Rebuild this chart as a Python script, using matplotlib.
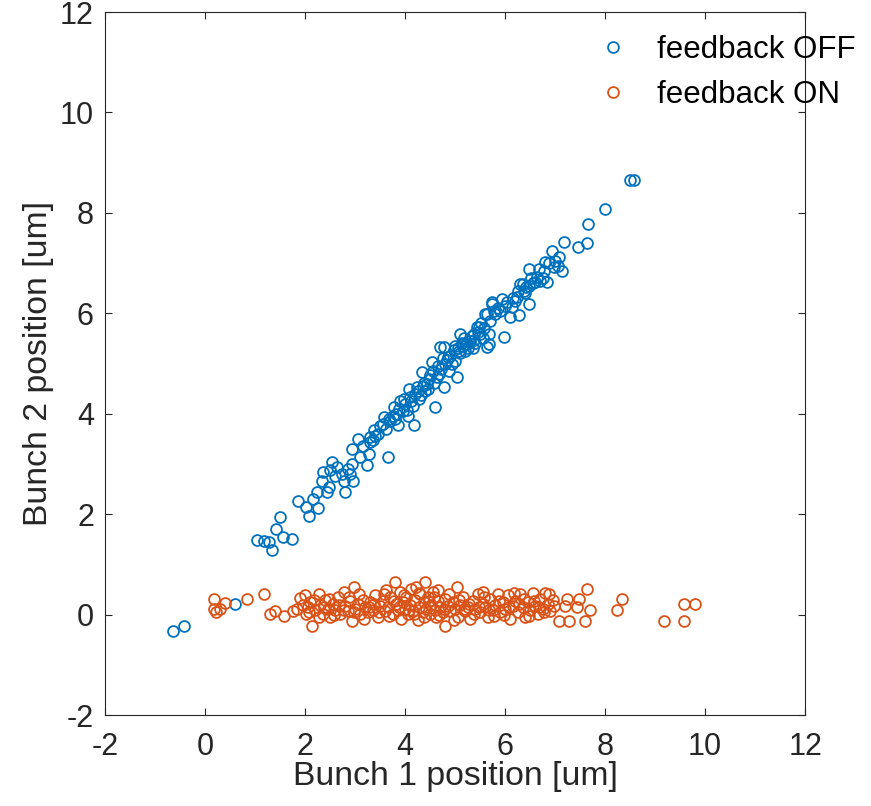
import matplotlib
matplotlib.use("Agg")
import matplotlib.pyplot as plt

# feedback OFF (bunch 1 x, bunch 2 y)
off_x = [-0.65, -0.43, 0.60,
         1.03, 1.17, 1.27, 1.33, 1.42, 1.50, 1.55, 1.73,
         1.85, 2.02, 2.07, 2.15, 2.25, 2.23, 2.33, 2.35, 2.43, 2.47, 2.53, 2.50, 2.63,
         2.73, 2.77, 2.80, 2.90, 2.93, 2.95, 2.93, 3.05, 3.10, 3.23, 3.27, 3.29, 3.65,
         3.37, 3.30, 3.45, 3.50, 3.57, 3.62, 3.70, 3.77, 3.75, 3.82, 3.90, 3.85, 3.95,
         4.00, 4.05, 4.07, 4.10, 4.17, 4.15, 4.20, 4.23, 4.28, 4.33, 4.35, 4.40, 4.43,
         4.48, 4.53, 4.55, 4.60, 4.63, 4.65, 4.70, 4.72, 4.77, 4.77, 4.80, 4.83, 4.88,
         4.90, 4.97, 5.00, 5.03, 5.05, 5.09, 5.10, 5.15, 5.20, 5.23, 5.30, 5.35, 5.37,
         5.37, 5.43, 5.47, 5.50, 5.55, 5.60, 5.63, 5.63, 5.67, 5.67, 5.73, 5.73, 5.80,
         5.85, 5.93, 5.97, 6.00, 6.10, 6.13, 6.20, 6.23, 6.27, 6.30, 6.37, 6.40, 6.47,
         6.47, 6.47, 6.55, 6.63, 6.70, 6.77, 6.80, 6.83, 6.93, 6.97, 7.00, 7.07, 7.13,
         7.17, 7.45, 7.63, 7.65, 8.00, 8.50, 8.57,
         3.40, 3.55, 3.68, 3.80, 3.88, 3.98, 4.03, 4.12, 4.25, 4.32, 4.38, 4.45,
         4.50, 4.58, 4.68, 4.75, 4.85, 4.93, 5.00, 5.08, 5.13, 5.18, 5.25, 5.33,
         5.40, 5.45, 5.52, 5.58, 5.70, 5.78, 5.90, 6.03, 6.15, 6.25, 6.35, 6.42,
         6.52, 6.60, 6.68, 6.75, 6.88, 7.05, 2.60, 2.85, 3.15, 3.35]
off_y = [-0.33, -0.22, 0.21,
         1.49, 1.47, 1.44, 1.29, 1.71, 1.94, 1.54, 1.51,
         2.27, 2.15, 1.97, 2.30, 2.13, 2.44, 2.67, 2.83, 2.44, 2.55, 3.03, 2.88, 2.93,
         2.80, 2.67, 2.44, 2.80, 3.00, 2.67, 3.30, 3.50, 3.13, 2.97, 3.20, 3.43, 3.13,
         3.67, 3.53, 3.60, 3.75, 3.93, 3.70, 3.85, 4.13, 3.95, 4.00, 4.26, 3.78, 4.05,
         4.20, 3.95, 4.50, 4.33, 3.78, 4.15, 4.40, 4.53, 4.30, 4.83, 4.55, 4.45, 4.60,
         4.70, 5.03, 4.85, 4.14, 4.73, 4.95, 5.33, 4.90, 4.53, 5.33, 5.00, 5.06, 4.85,
         5.15, 5.26, 5.05, 4.73, 5.30, 5.59, 5.20, 5.35, 5.25, 5.39, 5.45, 5.30, 5.46,
         5.59, 5.72, 5.72, 5.59, 5.50, 5.99, 5.33, 5.99, 5.39, 5.59, 6.19, 6.22, 5.99,
         6.10, 6.29, 5.52, 6.15, 5.92, 6.12, 6.25, 6.32, 5.96, 6.59, 6.45, 6.40, 6.55,
         6.89, 6.19, 6.60, 6.72, 6.65, 6.85, 7.02, 6.62, 7.25, 6.92, 7.05, 7.12, 6.85,
         7.42, 7.32, 7.40, 7.78, 8.08, 8.66, 8.66,
         3.55, 3.80, 3.90, 3.90, 4.10, 4.30, 4.08, 4.25, 4.45, 4.38, 4.62, 4.50,
         4.78, 4.62, 4.80, 5.10, 5.12, 5.00, 5.35, 5.25, 5.40, 5.50, 5.30, 5.55,
         5.40, 5.62, 5.80, 5.70, 5.85, 6.05, 6.05, 6.22, 6.30, 6.45, 6.58, 6.52,
         6.70, 6.62, 6.88, 6.70, 7.00, 6.95, 2.75, 2.90, 3.35, 3.48]

# feedback ON
on_x = [0.17, 0.17, 0.30, 0.39, 0.22, 0.83, 1.18, 1.30, 1.40, 1.57, 1.83, 1.90,
        2.13, 2.00, 2.27, 2.05, 2.10, 2.20, 2.30, 2.35, 2.40, 2.45, 2.50, 2.55,
        2.60, 2.65, 2.70, 2.77, 2.80, 2.85, 2.90, 2.93, 2.97, 3.00, 3.05, 3.10,
        3.15, 3.20, 3.25, 3.30, 3.35, 3.40, 3.45, 3.50, 3.55, 3.60, 3.65, 3.70,
        3.75, 3.80, 3.82, 3.85, 3.90, 3.92, 3.95, 4.00, 4.02, 4.05, 4.10, 4.12,
        4.15, 4.20, 4.25, 4.28, 4.30, 4.35, 4.38, 4.40, 4.42, 4.45, 4.50, 4.52,
        4.55, 4.60, 4.62, 4.65, 4.70, 4.75, 4.80, 4.80, 4.85, 4.90, 4.95, 5.00,
        5.03, 5.05, 5.10, 5.15, 5.20, 5.25, 5.30, 5.35, 5.40, 5.45, 5.50, 5.55,
        5.60, 5.65, 5.70, 5.75, 5.80, 5.85, 5.90, 5.95, 6.00, 6.05, 6.10, 6.15,
        6.20, 6.25, 6.30, 6.35, 6.40, 6.45, 6.50, 6.55, 6.60, 6.65, 6.70, 6.75,
        6.80, 6.85, 6.90, 6.95, 7.07, 7.20, 7.23, 7.27, 7.43, 7.47, 7.60, 7.63,
        7.70, 8.23, 8.33, 9.17, 9.57, 9.57, 9.80,
        2.08, 2.18, 2.28, 2.38, 2.48, 2.58, 2.68, 2.78, 2.88, 2.98, 3.08, 3.18,
        3.28, 3.38, 3.48, 3.58, 3.68, 3.78, 3.88, 3.98, 4.08, 4.18, 4.28, 4.38,
        4.48, 4.58, 4.68, 4.78, 4.88, 4.98, 5.08, 5.18, 5.28, 5.38, 5.48, 5.58,
        5.68, 5.78, 5.88, 5.98, 6.08, 6.18, 6.28, 6.38, 6.48, 6.58, 6.68, 6.78,
        6.88, 6.98, 1.95, 2.02, 1.75, 3.62, 4.22, 4.65, 5.55]
on_y = [0.31, 0.11, 0.11, 0.23, 0.05, 0.31, 0.41, 0.01, 0.08, -0.02, 0.11, 0.34,
        -0.22, 0.38, 0.41, 0.15, 0.25, 0.10, 0.20, 0.02, 0.30, 0.12, -0.05, 0.22,
        0.10, 0.35, 0.02, 0.44, 0.18, 0.08, 0.28, -0.12, 0.54, 0.12, 0.22, 0.02,
        0.30, 0.15, 0.05, 0.25, 0.10, 0.38, -0.05, 0.18, 0.28, 0.08, 0.15, 0.35,
        0.02, 0.64, 0.22, 0.10, 0.45, -0.08, 0.25, 0.12, 0.35, 0.02, 0.20, 0.50,
        0.08, 0.30, -0.10, 0.15, 0.40, 0.05, 0.25, 0.64, 0.12, 0.35, 0.02, 0.20,
        0.45, 0.10, -0.05, 0.28, 0.15, 0.05, -0.22, 0.32, 0.18, 0.08, 0.25, 0.12,
        0.54, -0.05, 0.20, 0.35, 0.08, 0.15, -0.08, 0.28, 0.12, 0.40, 0.05, 0.22,
        0.15, -0.05, 0.32, 0.10, 0.20, 0.40, 0.05, 0.25, 0.12, 0.38, -0.08, 0.18,
        0.28, 0.05, 0.40, 0.15, -0.05, 0.25, 0.10, 0.42, 0.18, 0.02, 0.32, 0.12,
        0.42, 0.22, 0.08, 0.30, -0.12, 0.18, 0.31, -0.12, 0.15, 0.31, -0.12, 0.51,
        0.09, 0.09, 0.31, -0.12, -0.12, 0.21, 0.21,
        0.05, 0.30, -0.05, 0.15, 0.32, 0.00, 0.20, 0.10, 0.35, 0.05, 0.40, -0.08,
        0.15, 0.22, 0.05, 0.40, -0.02, 0.28, 0.15, 0.38, 0.10, 0.02, 0.42, -0.05,
        0.28, 0.35, 0.00, 0.12, 0.40, -0.10, 0.30, 0.12, 0.22, 0.02, 0.15, 0.35,
        0.10, -0.02, 0.28, 0.00, 0.15, 0.42, 0.22, 0.32, -0.02, 0.28, 0.15, 0.05,
        0.40, 0.18, 0.20, 0.02, 0.08, 0.48, 0.55, 0.48, 0.45]

ticks = [-2, 0, 2, 4, 6, 8, 10, 12]

plt.rcParams["font.family"] = ["Liberation Sans", "DejaVu Sans"]
plt.rcParams["axes.unicode_minus"] = False
fig = plt.figure(figsize=(8.71, 8.06), dpi=100)
ax = fig.add_axes([0.1206, 0.1129, 0.8037, 0.8722])

ax.plot(off_x, off_y, "o", mfc="none", mec="#0072BD", ms=7.8, mew=1.3,
        label="feedback OFF")
ax.plot(on_x, on_y, "o", mfc="none", mec="#D95319", ms=7.8, mew=1.3,
        label="feedback ON")

ax.set_xlim(-2, 12)
ax.set_ylim(-2, 12)
ax.set_xticks(ticks)
ax.set_yticks(ticks)
ax.tick_params(direction="in", top=True, right=True, length=5, width=0.8,
               color="#262626", labelsize=22, labelcolor="#262626")
ax.tick_params(axis="x", pad=12)
ax.tick_params(axis="y", pad=8)
for s in ax.spines.values():
    s.set_color("#262626")
    s.set_linewidth(0.8)
ax.set_xlabel("Bunch 1 position [um]", fontsize=24.3, color="#262626")
ax.set_ylabel("Bunch 2 position [um]", fontsize=24.3, color="#262626")
ax.xaxis.set_label_coords(0.5, -0.066)
ax.yaxis.set_label_coords(-0.073, 0.5)

ax.legend(loc="upper left", bbox_to_anchor=(0.703, 0.968), frameon=False,
          fontsize=22.5, handlelength=1.0, handletextpad=0.9, borderpad=0,
          borderaxespad=0, markerscale=1.0)

fig.savefig("out.png", dpi=100)
